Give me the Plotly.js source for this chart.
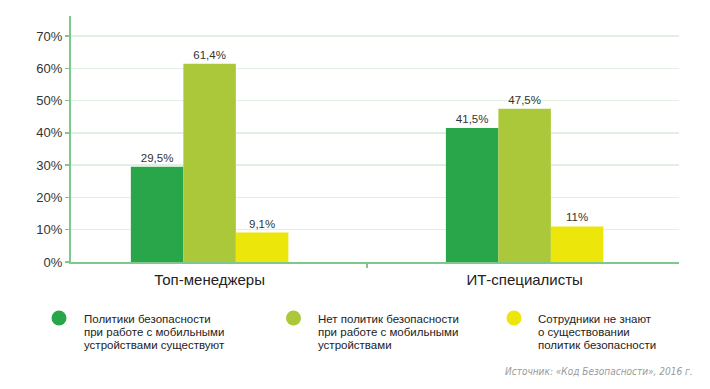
<!DOCTYPE html>
<html><head><meta charset="utf-8">
<script src="https://cdn.plot.ly/plotly-3.0.1.min.js"></script>
<style>html,body{margin:0;padding:0;background:#fff}#chart{width:710px;height:389px}</style>
</head><body><div id="chart"></div>
<script>
const categories = ["Топ-менеджеры", "ИТ-специалисты"];
const seriesNames = [
  ["Политики безопасности", "при работе с мобильными", "устройствами существуют"],
  ["Нет политик безопасности", "при работе с мобильными", "устройствами"],
  ["Сотрудники не знают", "о существовании", "политик безопасности"]
];
const policiesExist = [29.5, 41.5];
const noPolicies = [61.4, 47.5];
const unaware = [9.1, 11];
const valueLabels = [["29,5%", "41,5%"], ["61,4%", "47,5%"], ["9,1%", "11%"]];
const yTickVals = [0, 10, 20, 30, 40, 50, 60, 70];
const yTickText = ["0%", "10%", "20%", "30%", "40%", "50%", "60%", "70%"];
const sourceText = "Источник: «Код Безопасности», 2016 г.";

const colors = ["#2aa64a", "#abc83a", "#ece60a"];
const series = [policiesExist, noPolicies, unaware];

const traces = series.map((vals, i) => ({
  type: "bar",
  x: categories,
  y: vals,
  name: seriesNames[i].join(" "),
  marker: {color: colors[i], line: {width: 0}},
  text: valueLabels[i],
  textposition: "outside",
  cliponaxis: false,
  textfont: {family: "Liberation Sans, Arial, sans-serif", size: 11.5, color: "#333"},
  hoverinfo: "skip"
}));

// legend drawn below the plot, positions in pixels converted to paper units
const W = 608, H = 246, L = 71, T = 16;
function px(x) { return (x - L) / W; }
function py(y) { return (T + H - y) / H; }
const circleCx = [59, 293.5, 514];
const textX = [82, 316, 536];
const shapes = [];
const annotations = [];
circleCx.forEach((cx, i) => {
  shapes.push({type: "circle", xref: "paper", yref: "paper",
    x0: px(cx - 7.5), x1: px(cx + 7.5), y0: py(318 + 7.5), y1: py(318 - 7.5),
    fillcolor: colors[i], line: {width: 0}});
  seriesNames[i].forEach((line, j) => {
    annotations.push({xref: "paper", yref: "paper", x: px(textX[i]), y: py(319 + 13 * j),
      xanchor: "left", yanchor: "middle", align: "left", showarrow: false,
      text: line,
      font: {family: "Liberation Sans, Arial, sans-serif", size: 11.5, color: "#222"}});
  });
});
annotations.push({xref: "paper", yref: "paper", x: px(695), y: py(371),
  xanchor: "right", yanchor: "middle", showarrow: false,
  text: "<i>" + sourceText + "</i>",
  font: {family: "Liberation Sans Narrow, DejaVu Sans Condensed, sans-serif", size: 10, color: "#9a9a9a"}});

const layout = {
  width: 710, height: 389,
  margin: {l: 71, r: 31, t: 16, b: 127, pad: 0},
  paper_bgcolor: "#fff", plot_bgcolor: "#fff",
  showlegend: false,
  barmode: "group",
  bargap: 0.5, bargroupgap: 0,
  font: {family: "Liberation Sans, Arial, sans-serif", color: "#333"},
  xaxis: {
    type: "category",
    range: [-0.44, 1.49],
    showline: true, linecolor: "#7dc88a", linewidth: 2,
    ticks: "outside", tickson: "boundaries", ticklen: 4, tickcolor: "#7dc88a", tickwidth: 2,
    ticklabelstandoff: 3,
    showgrid: false, zeroline: false,
    tickfont: {family: "Liberation Sans, Arial, sans-serif", size: 15, color: "#222"},
    fixedrange: true
  },
  yaxis: {
    range: [0, 76.2],
    tickvals: yTickVals, ticktext: yTickText,
    showline: true, linecolor: "#7dc88a", linewidth: 2,
    ticks: "outside", ticklen: 4, tickcolor: "#7dc88a", tickwidth: 1.5,
    showgrid: true, gridcolor: "#e2f0e4", gridwidth: 1.5,
    zeroline: false,
    tickfont: {family: "Liberation Sans, Arial, sans-serif", size: 13, color: "#333"},
    fixedrange: true
  },
  shapes: shapes,
  annotations: annotations
};

Plotly.newPlot("chart", traces, layout, {displayModeBar: false, staticPlot: true});
</script></body></html>
